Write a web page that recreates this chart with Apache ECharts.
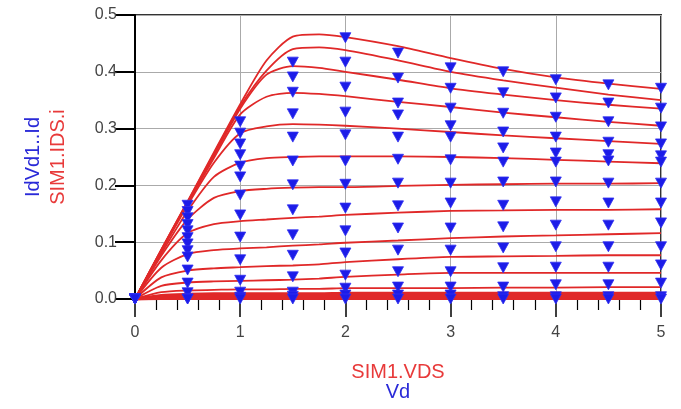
<!DOCTYPE html>
<html>
<head>
<meta charset="utf-8">
<script src="https://cdn.jsdelivr.net/npm/echarts@6/dist/echarts.min.js"></script>
<style>
html,body{margin:0;padding:0;background:#fff;}
#chart{width:681px;height:409px;}
</style>
</head>
<body>
<div id="chart"></div>
<script>
// ---- data ----
const simX = [0, 0.25, 0.5, 0.75, 1, 1.25, 1.5, 1.75, 2, 2.5, 3, 3.5, 4, 4.5, 5];
const sim1  = [0, 0.087, 0.172, 0.258, 0.343, 0.420, 0.462, 0.466, 0.461, 0.445, 0.424, 0.405, 0.390, 0.379, 0.370];
const sim2  = [0, 0.087, 0.171, 0.256, 0.339, 0.402, 0.440, 0.443, 0.438, 0.420, 0.400, 0.385, 0.372, 0.360, 0.350];
const sim3  = [0, 0.086, 0.170, 0.252, 0.335, 0.395, 0.410, 0.407, 0.400, 0.386, 0.371, 0.360, 0.350, 0.342, 0.335];
const sim4  = [0, 0.085, 0.168, 0.248, 0.325, 0.356, 0.363, 0.361, 0.357, 0.347, 0.338, 0.328, 0.320, 0.312, 0.305];
const sim5  = [0, 0.084, 0.165, 0.240, 0.292, 0.304, 0.308, 0.307, 0.305, 0.300, 0.294, 0.288, 0.283, 0.278, 0.273];
const sim6  = [0, 0.080, 0.155, 0.215, 0.240, 0.248, 0.250, 0.251, 0.251, 0.251, 0.250, 0.248, 0.245, 0.242, 0.239];
const sim7  = [0, 0.076, 0.140, 0.178, 0.190, 0.194, 0.196, 0.197, 0.197, 0.199, 0.201, 0.202, 0.203, 0.203, 0.204];
const sim8  = [0, 0.068, 0.116, 0.132, 0.137, 0.140, 0.143, 0.145, 0.148, 0.152, 0.155, 0.156, 0.157, 0.157, 0.158];
const sim9  = [0, 0.055, 0.079, 0.086, 0.089, 0.091, 0.094, 0.096, 0.099, 0.103, 0.107, 0.110, 0.112, 0.114, 0.116];
const sim10 = [0, 0.038, 0.050, 0.054, 0.056, 0.058, 0.059, 0.061, 0.065, 0.070, 0.074, 0.075, 0.076, 0.077, 0.077];
const sim11 = [0, 0.023, 0.029, 0.031, 0.032, 0.033, 0.034, 0.036, 0.039, 0.043, 0.046, 0.046, 0.046, 0.046, 0.046];
const sim12 = [0, 0.012, 0.015, 0.016, 0.017, 0.017, 0.018, 0.018, 0.019, 0.019, 0.019, 0.020, 0.020, 0.021, 0.021];
const sim13 = [0, 0.006, 0.008, 0.009, 0.009, 0.009, 0.009, 0.009, 0.010, 0.010, 0.010, 0.010, 0.010, 0.010, 0.010];
const sim14 = [0, 0.004, 0.005, 0.006, 0.006, 0.006, 0.006, 0.006, 0.006, 0.006, 0.006, 0.006, 0.006, 0.006, 0.006];
const sim15 = [0, 0.002, 0.003, 0.003, 0.003, 0.003, 0.003, 0.003, 0.003, 0.003, 0.003, 0.003, 0.003, 0.003, 0.003];
const sim16 = [0, 0.001, 0.001, 0.001, 0.001, 0.001, 0.001, 0.001, 0.001, 0.001, 0.001, 0.001, 0.001, 0.001, 0.001];

const measX = [0, 0.5, 1, 1.5, 2, 2.5, 3, 3.5, 4, 4.5, 5];
const meas1  = [0, 0.165, 0.312, 0.417, 0.460, 0.433, 0.407, 0.400, 0.386, 0.377, 0.371];
const meas2  = [0, 0.154, 0.292, 0.391, 0.417, 0.389, 0.371, 0.363, 0.354, 0.345, 0.336];
const meas3  = [0, 0.143, 0.273, 0.364, 0.373, 0.345, 0.336, 0.327, 0.320, 0.312, 0.303];
const meas4  = [0, 0.131, 0.254, 0.326, 0.329, 0.324, 0.305, 0.294, 0.285, 0.276, 0.273];
const meas5  = [0, 0.120, 0.234, 0.285, 0.289, 0.285, 0.285, 0.266, 0.257, 0.254, 0.252];
const meas6  = [0, 0.108, 0.215, 0.243, 0.243, 0.246, 0.245, 0.241, 0.241, 0.243, 0.241];
const meas7  = [0, 0.097, 0.183, 0.201, 0.202, 0.204, 0.204, 0.206, 0.206, 0.204, 0.204];
const meas8  = [0, 0.085, 0.148, 0.157, 0.160, 0.164, 0.169, 0.165, 0.171, 0.169, 0.169];
const meas9  = [0, 0.074, 0.109, 0.113, 0.120, 0.125, 0.125, 0.127, 0.130, 0.130, 0.134];
const meas10 = [0, 0.051, 0.069, 0.077, 0.081, 0.086, 0.086, 0.090, 0.092, 0.092, 0.092];
const meas11 = [0, 0.028, 0.033, 0.039, 0.042, 0.048, 0.048, 0.055, 0.056, 0.056, 0.060];
const meas12 = [0, 0.011, 0.012, 0.012, 0.019, 0.021, 0.021, 0.021, 0.025, 0.025, 0.028];
const meas13 = [0, 0.000, 0.003, 0.005, 0.007, 0.007, 0.007, 0.004, 0.004, 0.004, 0.004];
const meas14 = [0, 0.000, 0.000, 0.000, 0.000, 0.000, 0.000, 0.000, 0.000, 0.000, 0.000];

const xTicks = ['0', '1', '2', '3', '4', '5'];
const yTitleMeas = 'IdVd1..Id';
const yTitleSim = 'SIM1.IDS.i';
const xTitleSim = 'SIM1.VDS';
const xTitleMeas = 'Vd';

// ---- build ----
const simCurves = [sim1, sim2, sim3, sim4, sim5, sim6, sim7, sim8, sim9, sim10, sim11, sim12, sim13, sim14, sim15, sim16];
const measCurves = [meas1, meas2, meas3, meas4, meas5, meas6, meas7, meas8, meas9, meas10, meas11, meas12, meas13, meas14];

const RED = '#e02828';
const BLUE = '#1c1ce8';
const FONT = 'Liberation Sans, Arial, sans-serif';

const series = [];
simCurves.forEach((c, i) => {
  series.push({
    type: 'line',
    data: simX.map((x, j) => [x, c[j]]),
    smooth: 0.25,
    showSymbol: false,
    silent: true,
    lineStyle: { color: RED, width: i >= 12 ? 3.2 : 1.8 },
    z: 2
  });
});
const measPts = [];
measCurves.forEach(c => measX.forEach((x, j) => measPts.push([x, c[j]])));
series.push({
  type: 'scatter',
  data: measPts,
  symbol: 'triangle',
  symbolRotate: 180,
  symbolSize: [11, 10],
  itemStyle: { color: BLUE, opacity: 1, borderColor: '#3030f0', borderWidth: 0.8 },
  clip: false,
  z: 5
});

const chart = echarts.init(document.getElementById('chart'), null, { renderer: 'canvas' });
chart.setOption({
  animation: false,
  backgroundColor: '#ffffff',
  grid: { left: 135, right: 20, top: 15, bottom: 110, show: true, borderColor: '#333', borderWidth: 2, backgroundColor: 'transparent' },
  xAxis: {
    type: 'value', min: 0, max: 5, interval: 1,
    axisLine: { show: true, onZero: false, lineStyle: { color: '#000', width: 2 } },
    axisTick: { show: true, length: 18, lineStyle: { color: '#000', width: 1.5 } },
    minorTick: { show: true, splitNumber: 5, length: 11, lineStyle: { color: '#000', width: 1.2 } },
    axisLabel: { margin: 26, fontSize: 16, color: '#444', fontFamily: FONT,
      formatter: v => xTicks[Math.round(v)] },
    splitLine: { show: true, lineStyle: { color: '#aaa', width: 1 } },
    name: '{r|' + xTitleSim + '}\n{b|' + xTitleMeas + '}',
    nameLocation: 'middle', nameGap: 63,
    nameTextStyle: {
      fontFamily: FONT,
      rich: {
        r: { color: '#e83a3a', fontSize: 20, lineHeight: 20, fontFamily: FONT },
        b: { color: '#2a2ad8', fontSize: 20, lineHeight: 20, fontFamily: FONT }
      }
    }
  },
  yAxis: {
    type: 'value', min: 0, max: 0.5, interval: 0.1,
    axisLine: { show: true, onZero: false, lineStyle: { color: '#000', width: 2 } },
    axisTick: { show: true, length: 20, lineStyle: { color: '#000', width: 2 } },
    axisLabel: { margin: 18, fontSize: 16, color: '#444', fontFamily: FONT,
      formatter: v => v.toFixed(1) },
    splitLine: { show: true, lineStyle: { color: '#aaa', width: 1 } },
    name: '{b|' + yTitleMeas + '}\n{r|' + yTitleSim + '}',
    nameLocation: 'middle', nameGap: 64, nameRotate: 90,
    nameTextStyle: {
      fontFamily: FONT,
      rich: {
        b: { color: '#2a2ad8', fontSize: 20, lineHeight: 25, fontFamily: FONT },
        r: { color: '#e83a3a', fontSize: 20, lineHeight: 25, fontFamily: FONT }
      }
    }
  },
  series: series
});
</script>
</body>
</html>
